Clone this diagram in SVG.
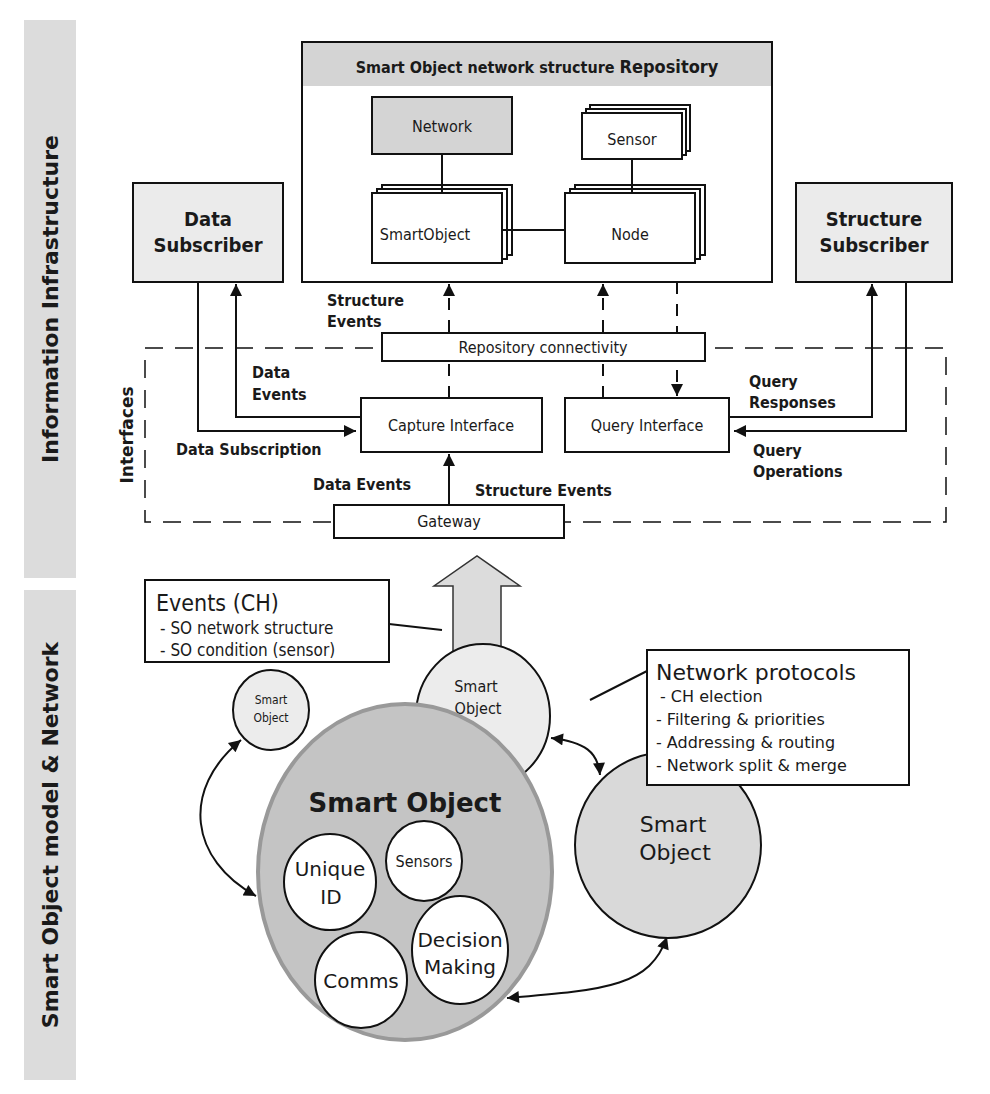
<svg xmlns="http://www.w3.org/2000/svg" width="990" height="1094" viewBox="0 0 990 1094">
<style>
text{font-family:"DejaVu Sans","Liberation Sans",sans-serif;fill:#1a1a1a}
.c{font-family:"DejaVu Sans Condensed","DejaVu Sans","Liberation Sans Narrow",sans-serif}
.b{font-weight:bold}
.box{fill:#fff;stroke:#111;stroke-width:2}
.ln{fill:none;stroke:#111;stroke-width:2}
.ds{fill:none;stroke:#111;stroke-width:2;stroke-dasharray:12 10}
</style>
<defs>
<marker id="a2" viewBox="0 0 10 10" refX="10" refY="5" markerWidth="14" markerHeight="12" orient="auto-start-reverse" markerUnits="userSpaceOnUse"><path d="M0,0L10,5L0,10z" fill="#111"/></marker>
</defs>
<rect width="990" height="1094" fill="#fff"/>
<g id="side1"><rect x="24" y="20" width="52" height="558" fill="#dcdcdc"/><text class="b" font-size="22" transform="translate(58,299) rotate(-90)" text-anchor="middle">Information Infrastructure</text></g>
<g id="side2"><rect x="24" y="590" width="52" height="490" fill="#dcdcdc"/><text class="b" font-size="22" transform="translate(58,835) rotate(-90)" text-anchor="middle">Smart Object model &amp; Network</text></g>
<g id="interfaces"><rect x="145" y="348" width="801" height="174" fill="none" stroke="#111" stroke-width="1.5" stroke-dasharray="18 12"/><text class="b" font-size="17" transform="translate(133,435) rotate(-90)" text-anchor="middle">Interfaces</text></g>
<g id="repository"><rect class="box" x="302" y="42" width="470" height="240"/><rect x="303" y="43" width="468" height="43" fill="#d4d4d4"/><text class="b c" x="537" y="73" font-size="16" text-anchor="middle">Smart Object network structure <tspan font-size="18">Repository</tspan></text></g>
<g id="network"><rect x="372" y="97" width="140" height="57" fill="#d4d4d4" stroke="#111" stroke-width="2"/><text class="c" x="442" y="132" font-size="16" text-anchor="middle">Network</text></g>
<g id="sensor"><rect class="box" x="590" y="105" width="100" height="46"/><rect class="box" x="586" y="109" width="100" height="46"/><rect class="box" x="582" y="113" width="100" height="46"/><text class="c" x="632" y="145" font-size="16" text-anchor="middle">Sensor</text></g>
<g id="smartobject"><rect class="box" x="382" y="185" width="130" height="70"/><rect class="box" x="377" y="189" width="130" height="70"/><rect class="box" x="372" y="193" width="130" height="70"/><text class="c" x="425" y="240" font-size="16" text-anchor="middle">SmartObject</text></g>
<g id="node"><rect class="box" x="575" y="185" width="130" height="70"/><rect class="box" x="570" y="189" width="130" height="70"/><rect class="box" x="565" y="193" width="130" height="70"/><text class="c" x="630" y="240" font-size="16" text-anchor="middle">Node</text></g>
<g id="data-subscriber"><rect x="133" y="183" width="150" height="99" fill="#ebebeb" stroke="#111" stroke-width="2"/><text class="b c" x="208" y="226" font-size="20" text-anchor="middle">Data</text><text class="b c" x="208" y="252" font-size="20" text-anchor="middle">Subscriber</text></g>
<g id="structure-subscriber"><rect x="796" y="183" width="156" height="99" fill="#ebebeb" stroke="#111" stroke-width="2"/><text class="b c" x="874" y="226" font-size="20" text-anchor="middle">Structure</text><text class="b c" x="874" y="252" font-size="20" text-anchor="middle">Subscriber</text></g>
<g id="connectors">
<path class="ln" d="M442,154V193M632,159V193M502,230H565"/>
<path class="ln" d="M198,282V431H356" marker-end="url(#a2)"/>
<path class="ln" d="M361,417H236V284" marker-end="url(#a2)"/>
<path class="ds" d="M449,398V284" marker-end="url(#a2)"/>
<path class="ds" d="M603,398V284" marker-end="url(#a2)"/>
<path class="ds" d="M677,282V396" marker-end="url(#a2)"/>
<path class="ln" d="M729,417H872V284" marker-end="url(#a2)"/>
<path class="ln" d="M906,282V431H734" marker-end="url(#a2)"/>
<path class="ln" d="M449,505V454" marker-end="url(#a2)"/>
<path class="ln" d="M389,624L442,630M590,700L649,670"/>
<path class="ln" d="M241,740C180,790 190,860 256,896" marker-start="url(#a2)" marker-end="url(#a2)"/>
<path class="ln" d="M551,738C585,742 598,752 600,775" marker-start="url(#a2)" marker-end="url(#a2)"/>
<path class="ln" d="M507,998C610,990 650,985 667,937" marker-start="url(#a2)" marker-end="url(#a2)"/>
</g>
<g id="repo-conn"><rect class="box" x="382" y="333" width="323" height="28"/><text class="c" x="543" y="353" font-size="16" text-anchor="middle">Repository connectivity</text></g>
<g id="capture"><rect class="box" x="361" y="398" width="181" height="54"/><text class="c" x="451" y="431" font-size="16" text-anchor="middle">Capture Interface</text></g>
<g id="query"><rect class="box" x="565" y="398" width="164" height="54"/><text class="c" x="647" y="431" font-size="16" text-anchor="middle">Query Interface</text></g>
<g id="gateway"><rect class="box" x="334" y="505" width="230" height="33"/><text class="c" x="449" y="527" font-size="16" text-anchor="middle">Gateway</text></g>
<g id="labels">
<text class="b c" font-size="16" x="327" y="306">Structure</text><text class="b c" font-size="16" x="327" y="327">Events</text>
<text class="b c" font-size="16" x="252" y="378">Data</text><text class="b c" font-size="16" x="252" y="400">Events</text>
<text class="b c" font-size="16" x="176" y="455">Data Subscription</text>
<text class="b c" font-size="16" x="313" y="490">Data Events</text>
<text class="b c" font-size="16" x="475" y="496">Structure Events</text>
<text class="b c" font-size="16" x="749" y="387">Query</text><text class="b c" font-size="16" x="749" y="408">Responses</text>
<text class="b c" font-size="16" x="753" y="456">Query</text><text class="b c" font-size="16" x="753" y="477">Operations</text>
</g>
<g id="big-arrow"><path d="M453,658V586H434L477,556L520,586H501V658Z" fill="#dcdcdc" stroke="#333" stroke-width="1.5"/></g>
<g id="events-box"><rect class="box" x="145" y="580" width="244" height="82"/><text class="c" x="156" y="611" font-size="23">Events (CH)</text><text class="c" x="160" y="634" font-size="17">- SO network structure</text><text class="c" x="160" y="656" font-size="17">- SO condition (sensor)</text></g>
<g id="so-small"><ellipse cx="271" cy="710" rx="38" ry="40" fill="#ececec" stroke="#111" stroke-width="2"/><text class="c" x="271" y="704" font-size="12" text-anchor="middle">Smart</text><text class="c" x="271" y="722" font-size="12" text-anchor="middle">Object</text></g>
<g id="so-middle"><ellipse cx="483" cy="716" rx="67" ry="72" fill="#ececec" stroke="#111" stroke-width="2"/><text class="c" x="476" y="692" font-size="16" text-anchor="middle">Smart</text><text class="c" x="478" y="714" font-size="16" text-anchor="middle">Object</text></g>
<g id="so-right"><ellipse cx="668" cy="845" rx="93" ry="93" fill="#d9d9d9" stroke="#111" stroke-width="2"/><text x="673" y="832" font-size="22" text-anchor="middle">Smart</text><text x="675" y="860" font-size="22" text-anchor="middle">Object</text></g>
<g id="protocols"><rect class="box" x="647" y="650" width="262" height="135"/><text x="656" y="680" font-size="22">Network protocols</text><text x="660" y="702" font-size="16">- CH election</text><text x="656" y="725" font-size="16">-  Filtering &amp; priorities</text><text x="656" y="748" font-size="16">- Addressing &amp; routing</text><text x="656" y="771" font-size="16">- Network split &amp; merge</text></g>
<g id="so-main"><ellipse cx="405" cy="872" rx="147" ry="168" fill="#c4c4c4" stroke="#999" stroke-width="4"/><text class="b" x="405" y="812" font-size="26" text-anchor="middle">Smart Object</text></g>
<g id="unique-id"><ellipse cx="330" cy="882" rx="46" ry="48" fill="#fff" stroke="#111" stroke-width="2"/><text x="330" y="876" font-size="20" text-anchor="middle">Unique</text><text x="331" y="904" font-size="20" text-anchor="middle">ID</text></g>
<g id="sensors"><ellipse cx="424" cy="861" rx="38" ry="40" fill="#fff" stroke="#111" stroke-width="2"/><text class="c" x="424" y="867" font-size="16" text-anchor="middle">Sensors</text></g>
<g id="comms"><ellipse cx="361" cy="980" rx="46" ry="48" fill="#fff" stroke="#111" stroke-width="2"/><text x="361" y="988" font-size="20" text-anchor="middle">Comms</text></g>
<g id="decision"><ellipse cx="460" cy="950" rx="48" ry="54" fill="#fff" stroke="#111" stroke-width="2"/><text x="460" y="947" font-size="20" text-anchor="middle">Decision</text><text x="460" y="974" font-size="20" text-anchor="middle">Making</text></g>
</svg>
